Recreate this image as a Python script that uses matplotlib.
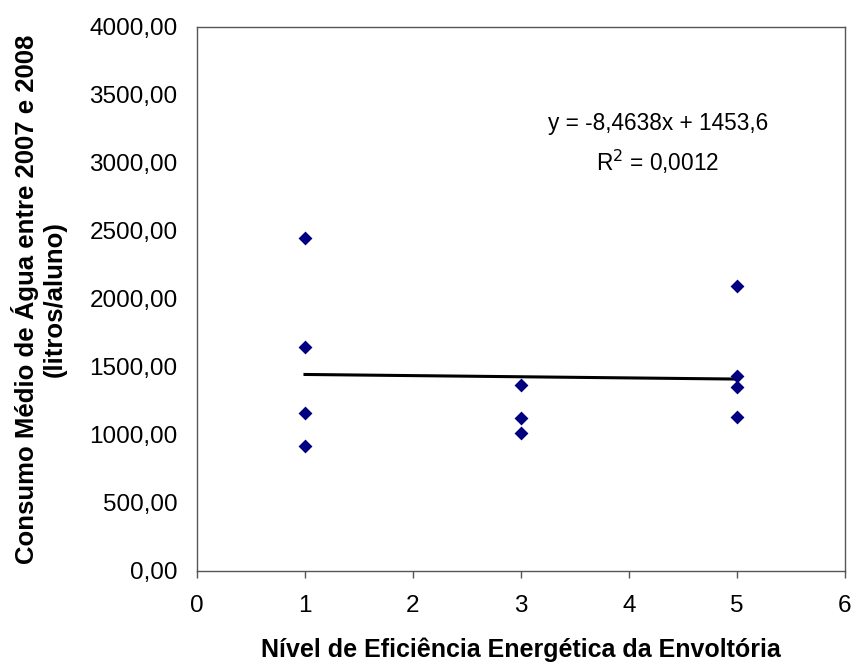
import matplotlib
matplotlib.use("Agg")
import matplotlib.pyplot as plt
from matplotlib.ticker import FuncFormatter, MultipleLocator
import numpy as np

plt.rcParams['font.family'] = ['Liberation Sans', 'DejaVu Sans']

nivel = [1, 1, 1, 1, 3, 3, 3, 5, 5, 5, 5]
consumo = [2446, 1645, 1160, 919, 1368, 1127, 1012, 2096, 1434, 1355, 1135]
slope = -8.4638
intercept = 1453.6
trend_x = [1, 5]
eq_text = "y = -8,4638x + 1453,6"
r2_text = "R$^2$ = 0,0012"

fig = plt.figure(figsize=(8.54, 6.64), dpi=100)
ax = fig.add_axes([197/854, 1-571/664, 648/854, 544/664])

ax.scatter(nivel, consumo, marker='D', s=50, color='#000080', zorder=3, linewidths=0)
tx = np.array(trend_x, dtype=float)
ax.plot(tx, slope*tx + intercept, color='black', lw=2.2, zorder=2)

ax.set_xlim(0, 6)
ax.set_ylim(0, 4000)
ax.xaxis.set_major_locator(MultipleLocator(1))
ax.yaxis.set_major_locator(MultipleLocator(500))
ax.yaxis.set_major_formatter(FuncFormatter(lambda v, p: f"{v:.2f}".replace('.', ',')))
ax.tick_params(axis='x', direction='out', length=5, width=1, labelsize=17.5, pad=12, color='#555555')
ax.tick_params(axis='y', length=0, labelsize=17.5, pad=14)
for s in ax.spines.values():
    s.set_linewidth(1)
    s.set_color('#555555')

ax.set_xlabel("Nível de Eficiência Energética da Envoltória", fontsize=18, fontweight='bold', labelpad=15)
ax.set_ylabel("Consumo Médio de Água entre 2007 e 2008\n(litros/aluno)", fontsize=18.5, fontweight='bold', labelpad=16, linespacing=1.2)

ax.text(0.711, 0.8235, eq_text, transform=ax.transAxes, ha='center', va='center', fontsize=16.3)
ax.text(0.711, 0.752, r2_text, transform=ax.transAxes, ha='center', va='center', fontsize=16.3)

fig.savefig("out.png", dpi=100)
